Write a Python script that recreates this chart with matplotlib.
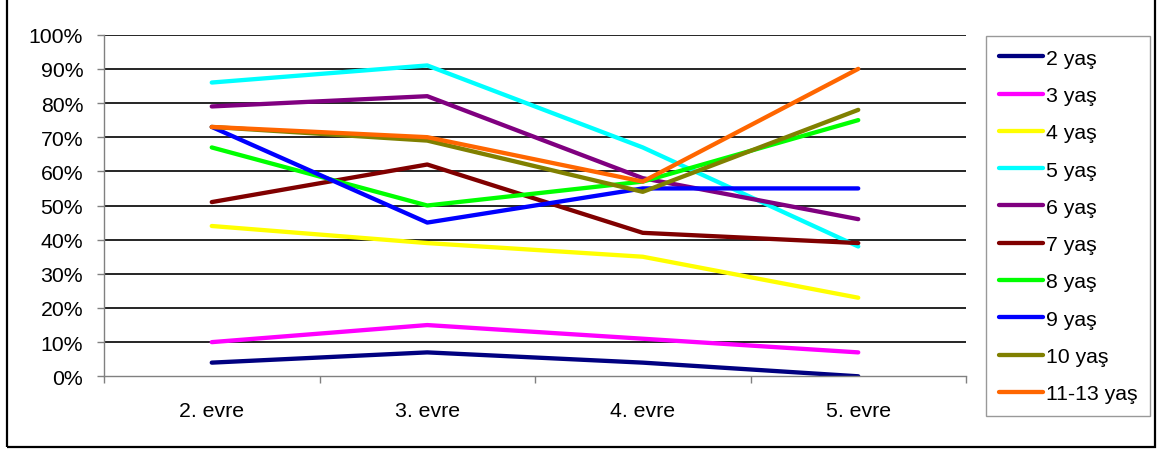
import matplotlib.pyplot as plt
from matplotlib.patches import Rectangle
from matplotlib.ticker import FixedLocator, PercentFormatter

plt.rcParams['font.family'] = ['Liberation Sans', 'DejaVu Sans']

stages = ['2. evre', '3. evre', '4. evre', '5. evre']

# percentages per age group
age_2 = [4, 7, 4, 0]
age_3 = [10, 15, 11, 7]
age_4 = [44, 39, 35, 23]
age_5 = [86, 91, 67, 38]
age_6 = [79, 82, 58, 46]
age_7 = [51, 62, 42, 39]
age_8 = [67, 50, 57, 75]
age_9 = [73, 45, 55, 55]
age_10 = [73, 69, 54, 78]
age_11_13 = [73, 70, 57, 90]

series = [
    ('2 yaş', age_2, '#000080'),
    ('3 yaş', age_3, '#FF00FF'),
    ('4 yaş', age_4, '#FFFF00'),
    ('5 yaş', age_5, '#00FFFF'),
    ('6 yaş', age_6, '#800080'),
    ('7 yaş', age_7, '#800000'),
    ('8 yaş', age_8, '#00FF00'),
    ('9 yaş', age_9, '#0000FF'),
    ('10 yaş', age_10, '#808000'),
    ('11-13 yaş', age_11_13, '#FF6600'),
]

fs = 15.3

fig = plt.figure(figsize=(11.7, 4.52), dpi=100)
ax = fig.add_axes([104 / 1170, 1 - 377.3 / 452, (966 - 104) / 1170, (377.3 - 35.7) / 452])

x = list(range(len(stages)))
for label, vals, color in series:
    ax.plot(x, vals, color=color, lw=3.1, label=label, solid_capstyle='round')

ax.set_xlim(-0.5, len(stages) - 0.5)
ax.set_ylim(0, 100)
ax.set_yticks(range(0, 101, 10))
ax.yaxis.set_major_formatter(PercentFormatter(decimals=0))
ax.set_xticks(x)
ax.set_xticklabels(stages)
ax.xaxis.set_minor_locator(FixedLocator([i - 0.5 for i in range(len(stages) + 1)]))
ax.tick_params(axis='x', which='major', length=0, pad=18, labelsize=fs)
ax.tick_params(axis='x', which='minor', length=5, width=1, color='#808080', direction='out')
ax.tick_params(axis='y', length=5, width=1, color='#808080', pad=10, labelsize=fs)

for v in range(10, 101, 10):
    ax.axhline(v, color='black', lw=1.2, zorder=0)

for s in ['top', 'right']:
    ax.spines[s].set_visible(False)
for s in ['left', 'bottom']:
    ax.spines[s].set_color('#808080')
    ax.spines[s].set_linewidth(1)

leg = ax.legend(loc='upper left', bbox_to_anchor=(986 / 1170, 1 - 37 / 452),
                bbox_transform=fig.transFigure, fontsize=fs, frameon=True,
                fancybox=False, edgecolor='#808080', handlelength=2.1,
                handletextpad=0.12, labelspacing=0.86, borderpad=0.6,
                borderaxespad=0)
leg.get_frame().set_linewidth(1)

fig.patches.append(Rectangle((7 / 1170, 1 - 448 / 452), (1155 - 7) / 1170, 1.0,
                             transform=fig.transFigure, fill=False, lw=1.6,
                             edgecolor='black'))

fig.savefig('out.png', dpi=100)
